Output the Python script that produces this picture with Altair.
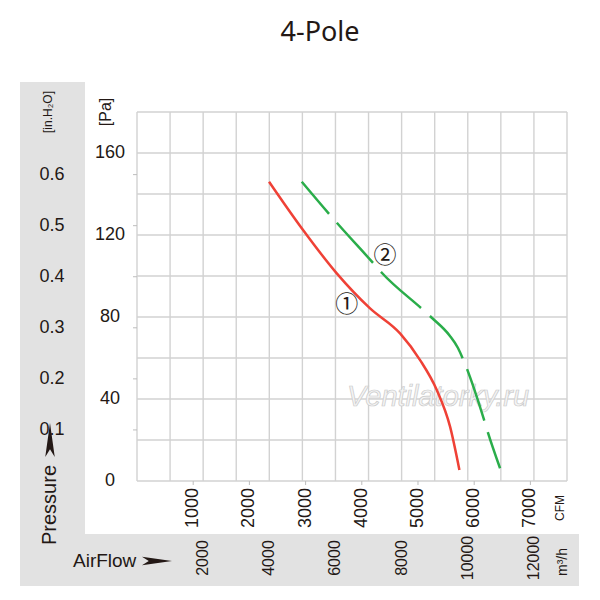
import altair as alt
import pandas as pd

# ---- data ----
# curve 1 (red): airflow in m3/h, pressure in Pa
red_flow = [3992, 4981, 6039, 7046, 7953, 8558, 9063, 9465, 9747]
red_pa   = [146, 123.3, 101.3, 84.2, 72, 59, 44.4, 26.5, 5.4]
# curve 2 (green, dashed)
green_flow = [4981, 6039, 7147, 7400, 8628, 8930, 9450, 9700, 9868, 10493, 10593, 10977]
green_pa   = [146, 126, 106.2, 101.6, 83.8, 79.4, 71, 65, 59, 29.8, 24.5, 6.2]

grid_flow = [0, 1000, 2000, 3000, 4000, 5000, 6000, 7000, 8000, 9000, 10000, 11000, 12000, 13000]
grid_pa = [0, 20, 40, 60, 80, 100, 120, 140, 160, 180]
pa_labels = [0, 40, 80, 120, 160]
inch_labels = [0.1, 0.2, 0.3, 0.4, 0.5, 0.6]
cfm_labels = [1000, 2000, 3000, 4000, 5000, 6000, 7000]
m3h_labels = [2000, 4000, 6000, 8000, 10000, 12000]

PA_PER_INH2O = 249.089
M3H_PER_CFM = 1.69901

INK = "#231815"
REG = "Liberation Sans, Arial, sans-serif"

xs = alt.Scale(domain=[0, 13000], nice=False, zero=False)
ys = alt.Scale(domain=[0, 180], nice=False, zero=False)
one = pd.DataFrame({"k": [0]})

# gray bands
band_left = alt.Chart(one).mark_rect(color="#e2e2e2").encode(
    x=alt.value(-117), x2=alt.value(-52), y=alt.value(-30), y2=alt.value(474))
band_bottom = alt.Chart(one).mark_rect(color="#e2e2e2").encode(
    x=alt.value(-117), x2=alt.value(442), y=alt.value(422), y2=alt.value(474))

# grid
gx = alt.Chart(pd.DataFrame({"flow": grid_flow})).mark_rule(color="#d2d2d2", strokeWidth=1.4).encode(
    x=alt.X("flow:Q", scale=xs, axis=None))
gy = alt.Chart(pd.DataFrame({"pa": grid_pa})).mark_rule(color="#d2d2d2", strokeWidth=1.4).encode(
    y=alt.Y("pa:Q", scale=ys, axis=None))

inch_df = pd.DataFrame({"pa": [v * PA_PER_INH2O for v in inch_labels],
                        "lab": [f"{v:.1f}" for v in inch_labels]})
cfm_df = pd.DataFrame({"flow": [v * M3H_PER_CFM for v in cfm_labels],
                       "lab": [str(v) for v in cfm_labels]})
m3h_df = pd.DataFrame({"flow": m3h_labels, "lab": [str(v) for v in m3h_labels]})
pa_df = pd.DataFrame({"pa": pa_labels, "lab": [str(v) for v in pa_labels]})

inch_ticks = alt.Chart(inch_df).mark_rule(color="#bdbdbd", strokeWidth=1).encode(
    y=alt.Y("pa:Q", scale=ys, axis=None), x=alt.value(-4), x2=alt.value(0))
cfm_ticks = alt.Chart(cfm_df).mark_rule(color="#bdbdbd", strokeWidth=1).encode(
    x=alt.X("flow:Q", scale=xs, axis=None), y=alt.value(369), y2=alt.value(373))

pa_text = alt.Chart(pa_df).mark_text(font=REG, fontSize=18, color=INK, align="center",
                                     baseline="middle").encode(
    y=alt.Y("pa:Q", scale=ys, axis=None), x=alt.value(-27), text="lab:N")
inch_text = alt.Chart(inch_df).mark_text(font=REG, fontSize=18, color=INK, align="center",
                                         baseline="middle").encode(
    y=alt.Y("pa:Q", scale=ys, axis=None), x=alt.value(-85), text="lab:N")
cfm_text = alt.Chart(cfm_df).mark_text(font=REG, fontSize=18, color=INK, align="right",
                                       baseline="middle", angle=270).encode(
    x=alt.X("flow:Q", scale=xs, axis=None), y=alt.value(376), text="lab:N")
m3h_text = alt.Chart(m3h_df).mark_text(font=REG, fontSize=16, color=INK, align="center",
                                       baseline="middle", angle=270).encode(
    x=alt.X("flow:Q", scale=xs, axis=None), y=alt.value(446), text="lab:N")


def label(txt, x, y, size, font=REG, angle=0, align="center", baseline="middle", color=INK):
    kw = dict(text=txt, font=font, fontSize=size, color=color, align=align, baseline=baseline)
    if angle:
        kw["angle"] = angle
    return alt.Chart(one).mark_text(**kw).encode(x=alt.value(x), y=alt.value(y))


title = label("4-Pole", 183, -71, 27, font="Noto Sans", baseline="alphabetic")
pa_unit = label("[Pa]", -31, 0, 16, angle=270)
in_unit = label("[in.H₂O]", -89, 0, 12, angle=270)
pressure = label("Pressure", -87, 393, 20, angle=270)
airflow = label("AirFlow", -64, 455, 19, align="left", baseline="alphabetic")
cfm_unit = label("CFM", 423, 396, 12, angle=270)
m3h_unit = label("m³/h", 426, 450, 14, angle=270)

arrow_right = alt.Chart(one).mark_point(
    shape="M-1,-0.28 L1,0 L-1,0.28 L-0.55,0 Z", filled=True, color=INK, opacity=1, size=900
).encode(x=alt.value(20), y=alt.value(449))
arrow_up = alt.Chart(one).mark_point(
    shape="M-0.28,1 L0,-1 L0.28,1 L0,0.55 Z", filled=True, color=INK, opacity=1, size=1150
).encode(x=alt.value(-87), y=alt.value(328))

watermark = alt.Chart(pd.DataFrame({"flow": [9102], "pa": [41], "t": ["Ventilatorky.ru"]})).mark_text(
    font=REG, fontSize=29, fontStyle="italic", fill="#f4f4f4", stroke="#cacaca", strokeWidth=0.7,
    align="center", baseline="middle").encode(
    x=alt.X("flow:Q", scale=xs, axis=None), y=alt.Y("pa:Q", scale=ys, axis=None), text="t:N")

red = alt.Chart(pd.DataFrame({"flow": red_flow, "pa": red_pa})).mark_line(
    color="#ef4136", strokeWidth=2.5, interpolate="monotone").encode(
    x=alt.X("flow:Q", scale=xs, axis=None), y=alt.Y("pa:Q", scale=ys, axis=None))
green = alt.Chart(pd.DataFrame({"flow": green_flow, "pa": green_pa})).mark_line(
    color="#2aad4a", strokeWidth=2.5, interpolate="monotone", strokeDash=[54, 12],
    strokeDashOffset=12).encode(
    x=alt.X("flow:Q", scale=xs, axis=None), y=alt.Y("pa:Q", scale=ys, axis=None))

marks = alt.Chart(pd.DataFrame({"flow": [6342, 7500], "pa": [85.9, 110], "t": ["①", "②"]})).mark_text(
    font="Noto Sans CJK JP", fontSize=23, color=INK, align="center", baseline="middle").encode(
    x=alt.X("flow:Q", scale=xs, axis=None), y=alt.Y("pa:Q", scale=ys, axis=None), text="t:N")

chart = alt.layer(
    band_left, band_bottom, gx, gy, inch_ticks, cfm_ticks, watermark,
    pa_text, inch_text, cfm_text, m3h_text,
    title, pa_unit, in_unit, pressure, airflow, cfm_unit, m3h_unit, arrow_right, arrow_up,
    red, green, marks
).properties(
    width=430, height=369,
    autosize=alt.AutoSizeParams(type="none"),
    padding={"left": 129, "top": 104, "right": 25, "bottom": 111},
).configure_view(stroke=None)

chart.save("out.html", embed_options={"renderer": "svg", "actions": False})
